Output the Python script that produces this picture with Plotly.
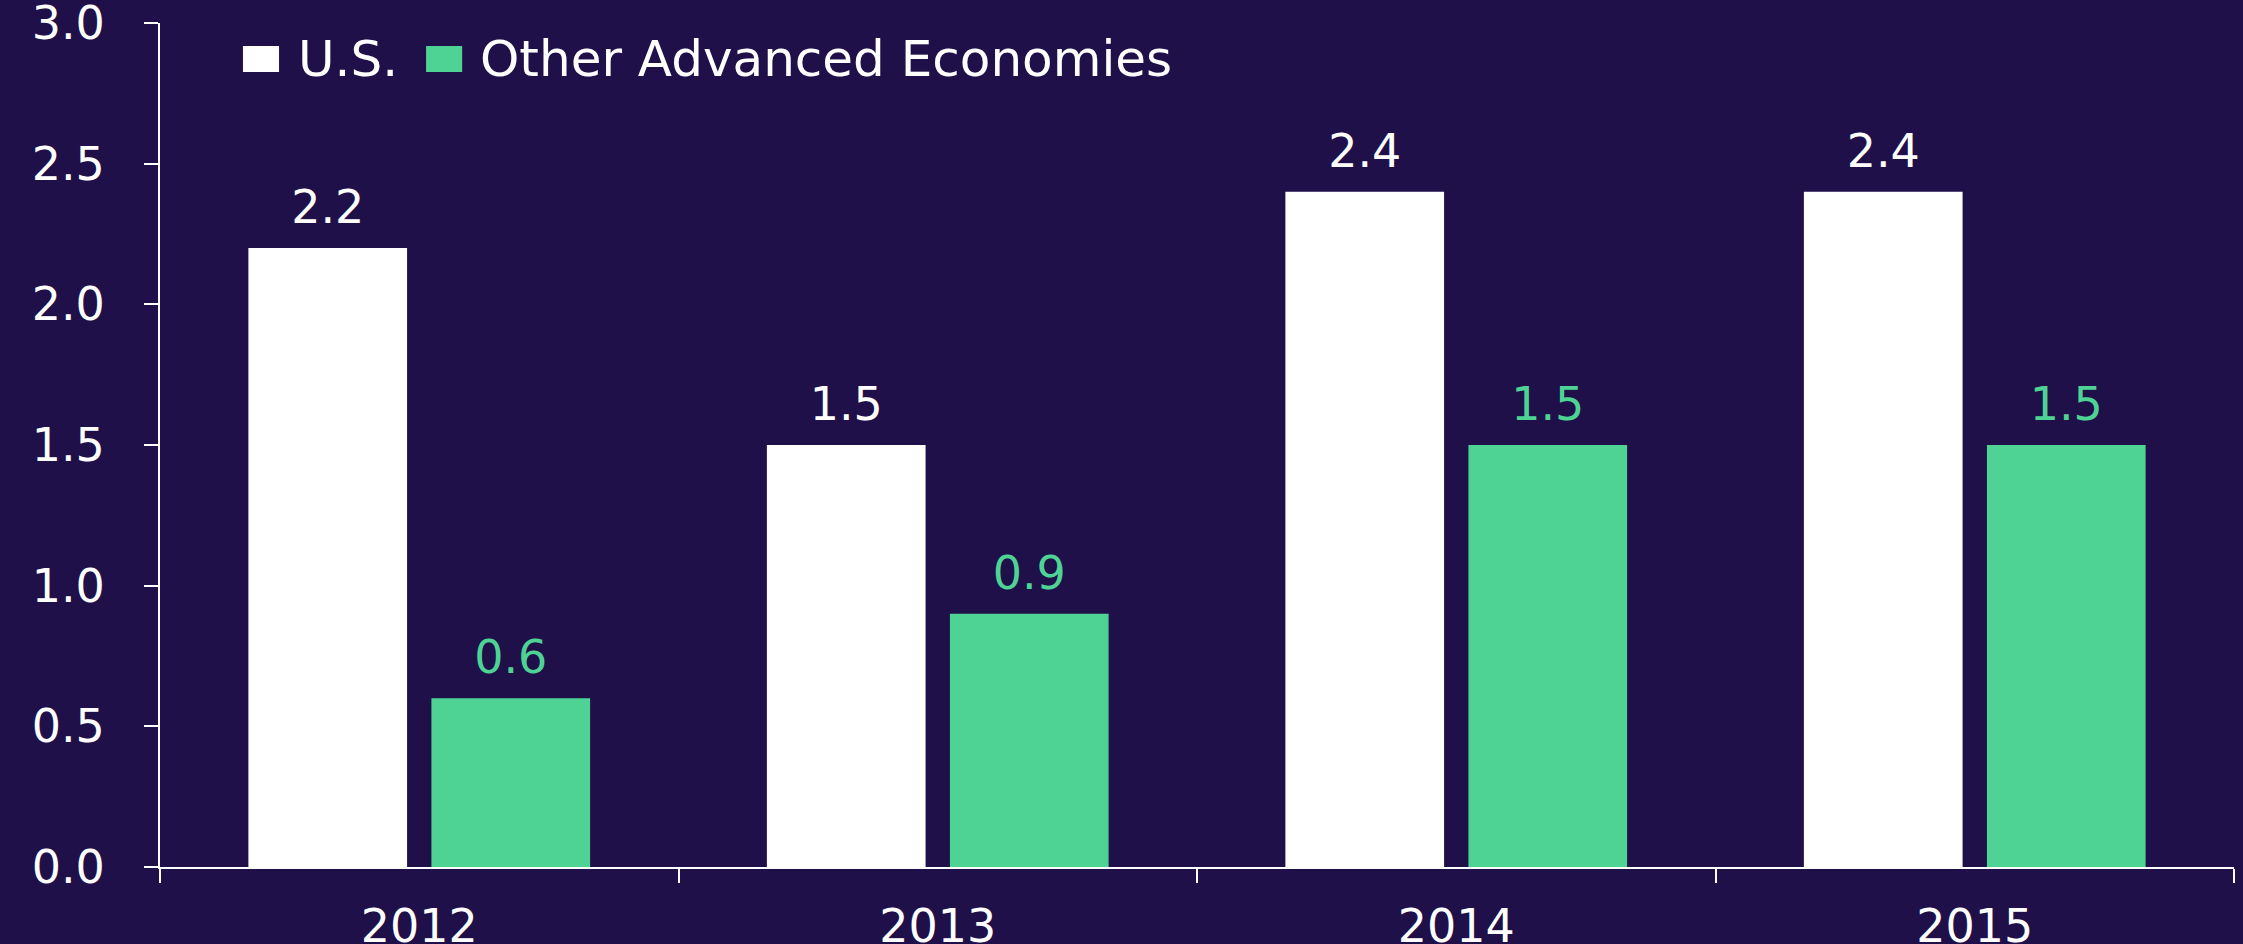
import plotly.graph_objects as go

# ── Data ────────────────────────────────────────────────────────────────
YEARS = ["2012", "2013", "2014", "2015"]
US_VALUES = [2.2, 1.5, 2.4, 2.4]
OTHER_VALUES = [0.6, 0.9, 1.5, 1.5]
SERIES_NAMES = ["U.S.", "Other Advanced Economies"]
Y_MAX = 3.0
Y_STEP = 0.5

BG = "#1f1049"
GREEN = "#4fd395"
WHITE = "#ffffff"
FONT = "DejaVu Sans"
FS = 46

BARGAP = 0.294

fig = go.Figure()

for name, values, color, grp in [
    (SERIES_NAMES[0], US_VALUES, WHITE, "us"),
    (SERIES_NAMES[1], OTHER_VALUES, GREEN, "other"),
]:
    fig.add_trace(go.Bar(
        x=YEARS, y=values, name=name,
        offsetgroup=grp,
        marker=dict(color=color, line=dict(width=0)),
        showlegend=False,
        hoverinfo="x+y+name",
    ))
    # value labels, grouped like the bars so they sit over them
    fig.add_trace(go.Scatter(
        x=YEARS, y=values,
        offsetgroup=grp,
        mode="markers+text",
        marker=dict(size=20, color="rgba(0,0,0,0)"),
        text=[f"{v:.1f}" for v in values],
        textposition="top center",
        textfont=dict(color=color, size=FS, family=FONT),
        cliponaxis=False,
        showlegend=False,
        hoverinfo="skip",
    ))

# ── Legend (drawn by hand for the large square keys) ─────────────────────
legend_items = [
    (SERIES_NAMES[0], WHITE, 0.040, 0.0656),
    (SERIES_NAMES[1], GREEN, 0.1283, 0.1533),
]
for label, color, kx, tx in legend_items:
    fig.add_shape(
        type="rect", xref="paper", yref="paper",
        x0=kx, x1=kx + 0.0174, y0=0.942, y1=0.9727,
        fillcolor=color, line=dict(width=0),
    )
    fig.add_annotation(
        text=label, xref="paper", yref="paper",
        x=tx, y=0.957, xanchor="left", yanchor="middle",
        showarrow=False, font=dict(size=50, color=WHITE, family=FONT),
    )

fig.update_layout(
    width=2243,
    height=944,
    margin=dict(l=160, r=9, t=23, b=77),
    paper_bgcolor=BG,
    plot_bgcolor=BG,
    barmode="group",
    bargap=BARGAP,
    bargroupgap=0.133,
    scattermode="group",
    scattergap=BARGAP,
    font=dict(family=FONT, color=WHITE, size=FS),
    showlegend=False,
    xaxis=dict(
        showline=True, linecolor=WHITE, linewidth=2,
        ticks="outside", tickson="boundaries", ticklen=14,
        tickcolor=WHITE, tickwidth=2,
        tickfont=dict(size=FS, color=WHITE),
        ticklabelstandoff=18,
        automargin=False,
        showgrid=False, zeroline=False,
    ),
    yaxis=dict(
        range=[0, Y_MAX],
        tickmode="linear", tick0=0, dtick=Y_STEP,
        tickformat=".1f",
        showline=True, linecolor=WHITE, linewidth=2,
        ticks="outside", ticklen=14, tickcolor=WHITE, tickwidth=2,
        tickfont=dict(size=FS, color=WHITE),
        ticklabelstandoff=30,
        ticklabeloverflow="allow",
        automargin=False,
        showgrid=False, zeroline=False,
    ),
)

fig.write_html(
    "out.html",
    config={"displayModeBar": False},
    post_script="document.body.style.margin='0';document.body.style.overflow='hidden';",
)
